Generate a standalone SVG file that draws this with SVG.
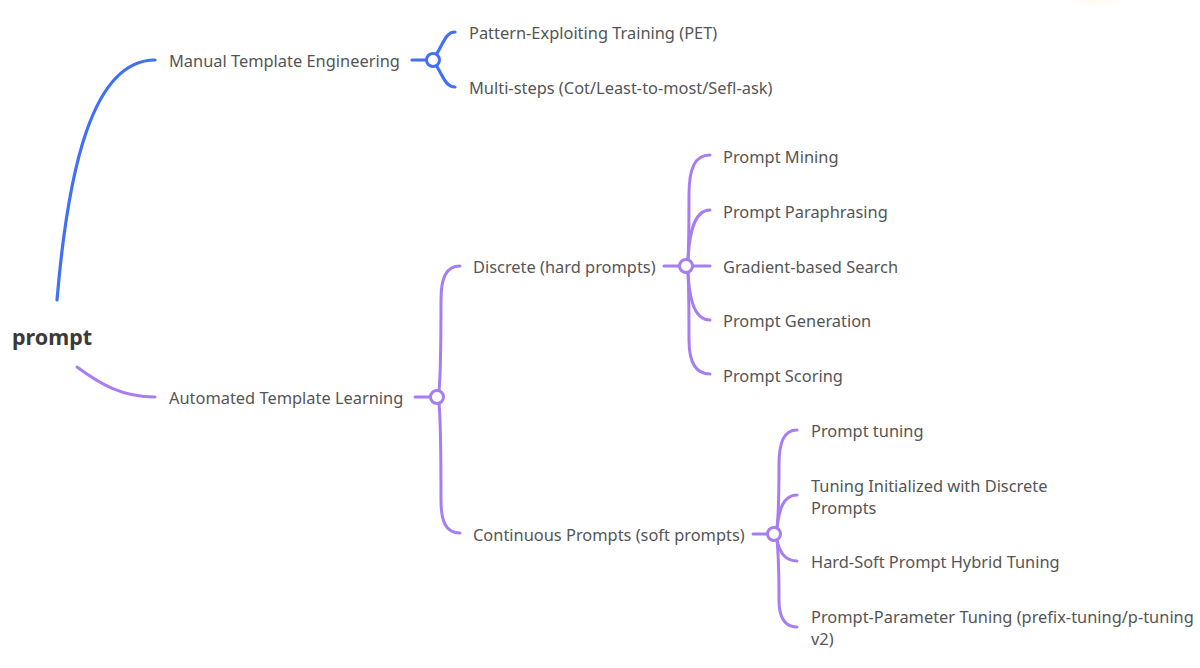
<svg xmlns="http://www.w3.org/2000/svg" width="1200" height="668" viewBox="0 0 1200 668">
<style>
text{font-family:"Noto Sans","Open Sans",sans-serif;font-size:16.4px;fill:#555;dominant-baseline:central}
.root{font-size:21.5px;font-weight:bold;fill:#3a3a3a}
.b{stroke:#4270f5;stroke-width:3.2;fill:none;stroke-linecap:round}
.p{stroke:#a67ef2;stroke-width:3;fill:none;stroke-linecap:round}
.bc{stroke:#4270f5;stroke-width:3;fill:#fff}
.pc{stroke:#a67ef2;stroke-width:3;fill:#fff}
</style>
<defs>
<radialGradient id="glow" cx="0.5" cy="0.5" r="0.5">
<stop offset="0" stop-color="#ffeccc" stop-opacity="0.35"/>
<stop offset="1" stop-color="#fff" stop-opacity="0"/>
</radialGradient>
</defs>
<rect width="1200" height="668" fill="#fff"/>
<ellipse cx="1095" cy="0" rx="40" ry="10" fill="url(#glow)"/>
<g id="connectors">
<path class="b" d="M57,300 C68,170 92,60 155,60"/>
<path class="p" d="M77,367 C100,384 122,397 155,397"/>
<path class="b" d="M412,60 H426"/>
<path class="b" d="M436,55 C444,42 446,32 455,32"/>
<path class="b" d="M436,65 C444,78 446,87 455,87"/>
<path class="p" d="M415,397 H430"/>
<path class="p" d="M439,391 C441,370 441,330 441,300 C441,278 446,266 460,266"/>
<path class="p" d="M439,403 C441,425 441,470 441,500 C441,522 446,533 460,533"/>
<path class="p" d="M664,266 H680"/>
<path class="p" d="M692,266 H710"/>
<path class="p" d="M688,260 C689,240 689,215 689,195 C689,168 695,155 710,155"/>
<path class="p" d="M688,260 C689,240 692,210 710,210"/>
<path class="p" d="M688,272 C689,292 692,320 710,320"/>
<path class="p" d="M688,272 C689,292 689,318 689,340 C689,362 695,374 710,374"/>
<path class="p" d="M753,534 H767"/>
<path class="p" d="M777,528 C779,510 779,490 779,465 C779,442 784,430 797,430"/>
<path class="p" d="M777,528 C779,512 782,495 797,495"/>
<path class="p" d="M777,540 C779,550 784,561 797,561"/>
<path class="p" d="M777,540 C779,560 779,580 779,600 C779,616 784,627 797,627"/>
</g>
<g id="n-root"><text class="root" x="12" y="336">prompt</text></g>
<g id="n-manual"><text x="169" y="60">Manual Template Engineering</text><circle class="bc" cx="433" cy="60" r="6.5"/></g>
<g id="n-pet"><text x="469" y="32">Pattern-Exploiting Training (PET)</text></g>
<g id="n-multi"><text x="469" y="87">Multi-steps (Cot/Least-to-most/Sefl-ask)</text></g>
<g id="n-auto"><text x="169" y="397">Automated Template Learning</text><circle class="pc" cx="437" cy="397" r="6.5"/></g>
<g id="n-discrete"><text x="473" y="266">Discrete (hard prompts)</text><circle class="pc" cx="686" cy="266" r="6.5"/></g>
<g id="n-mining"><text x="723" y="156">Prompt Mining</text></g>
<g id="n-para"><text x="723" y="211">Prompt Paraphrasing</text></g>
<g id="n-grad"><text x="723" y="266">Gradient-based Search</text></g>
<g id="n-gen"><text x="723" y="320">Prompt Generation</text></g>
<g id="n-score"><text x="723" y="375">Prompt Scoring</text></g>
<g id="n-cont"><text x="473" y="534">Continuous Prompts (soft prompts)</text><circle class="pc" cx="774" cy="534" r="6.5"/></g>
<g id="n-ptuning"><text x="811" y="430">Prompt tuning</text></g>
<g id="n-init"><text x="811" y="485">Tuning Initialized with Discrete</text><text x="811" y="507">Prompts</text></g>
<g id="n-hybrid"><text x="811" y="561">Hard-Soft Prompt Hybrid Tuning</text></g>
<g id="n-param"><text x="811" y="616">Prompt-Parameter Tuning (prefix-tuning/p-tuning</text><text x="811" y="638">v2)</text></g>
</svg>
